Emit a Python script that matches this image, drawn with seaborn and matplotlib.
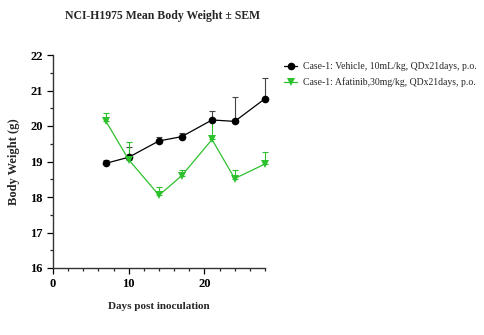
import matplotlib
matplotlib.use("Agg")
import matplotlib.pyplot as plt
import seaborn as sns
import pandas as pd
import numpy as np
from matplotlib.ticker import MultipleLocator

days = [7, 10, 14, 17, 21, 24, 28]
vehicle_mean = [18.95, 19.12, 19.58, 19.70, 20.17, 20.13, 20.77]
vehicle_sem = [0.10, 0.30, 0.12, 0.10, 0.26, 0.68, 0.58]
afatinib_mean = [20.13, 19.05, 18.05, 18.60, 19.62, 18.52, 18.93]
afatinib_sem = [0.24, 0.50, 0.22, 0.15, 0.55, 0.25, 0.35]
labels = ["Case-1: Vehicle, 10mL/kg, QDx21days, p.o.",
          "Case-1: Afatinib,30mg/kg, QDx21days, p.o."]

sns.set_style("ticks")
plt.rcParams['font.family'] = ['Liberation Serif', 'DejaVu Serif']

df = pd.DataFrame({
    "day": days * 2,
    "weight": vehicle_mean + afatinib_mean,
    "sem": vehicle_sem + afatinib_sem,
    "group": [labels[0]] * len(days) + [labels[1]] * len(days),
})

fig = plt.figure(figsize=(4.84, 3.35), dpi=100)
ax = fig.add_axes([53/484, 1 - 268/335, (265-53)/484, (268-55)/335])

colors = {labels[0]: "black", labels[1]: "#2ec12e"}
ebcolors = {labels[0]: "#444444", labels[1]: "#2ec12e"}
markers = {labels[0]: "o", labels[1]: "v"}

for g in labels:
    sub = df[df.group == g]
    sem = sub["sem"].to_numpy()
    eb = ax.errorbar(sub["day"].to_numpy(), sub["weight"].to_numpy(),
                     yerr=np.vstack([np.zeros_like(sem), sem]),
                     fmt="none", ecolor=ebcolors[g], elinewidth=0.8, capsize=2.5,
                     capthick=0.8, zorder=2)
    for art in list(eb.lines[1]) + list(eb.lines[2]):
        art.set_clip_on(False)

sns.lineplot(data=df, x="day", y="weight", hue="group", style="group",
             palette=colors, markers=markers, dashes=False, markersize=5.5,
             markeredgewidth=0, linewidth=0.9, ax=ax, zorder=3)
for ln in ax.lines:
    ln.set_clip_on(False)
for c in ax.collections:
    c.set_clip_on(False)

ax.set_xlim(0, 28)
ax.set_ylim(16, 22)
ax.xaxis.set_major_locator(MultipleLocator(10))
ax.xaxis.set_minor_locator(MultipleLocator(2))
ax.yaxis.set_major_locator(MultipleLocator(1))
ax.yaxis.set_minor_locator(MultipleLocator(0.5))
for s in ["top", "right"]:
    ax.spines[s].set_visible(False)
for s in ["left", "bottom"]:
    ax.spines[s].set_linewidth(1.0)
    ax.spines[s].set_color("#333333")
ax.tick_params(axis="both", which="major", length=4, width=0.9, labelsize=9, colors="black")
ax.tick_params(axis="both", which="minor", length=2.5, width=0.9)
for lbl in ax.get_xticklabels() + ax.get_yticklabels():
    lbl.set_fontweight("bold")

ax.set_xlabel("Days post inoculation", fontsize=8, fontweight="bold", labelpad=8)
ax.set_ylabel("Body Weight (g)", fontsize=9, fontweight="bold", labelpad=7)
fig.suptitle("NCI-H1975 Mean Body Weight ± SEM", x=0.335, y=0.97,
             fontsize=8.5, fontweight="bold")

leg = ax.legend(loc="upper left", bbox_to_anchor=(1.07, 0.985), frameon=False,
                fontsize=7, handlelength=1.4, handletextpad=0.6, labelspacing=0.65,
                borderaxespad=0)
for h in leg.legend_handles:
    h.set_markeredgewidth(0)

fig.savefig("out.png", dpi=100)
